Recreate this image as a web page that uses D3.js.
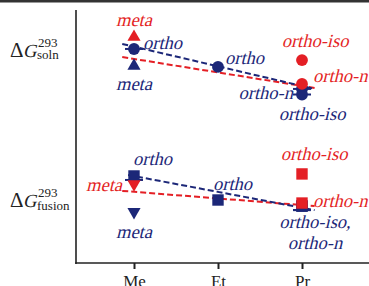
<!DOCTYPE html>
<meta charset="utf-8">
<script src="https://cdn.jsdelivr.net/npm/d3@7"></script>
<style>
  body { margin: 0; background: #fff; }
</style>
<div id="chart"></div>
<script>
  // categories on the x axis
  var categories = ["Me", "Et", "Pr"];

  // free energies, arbitrary relative units (higher = up)
  var blueSoln = [
    { cat: "Me", isomer: "ortho", value: 84.6 },
    { cat: "Me", isomer: "meta", value: 77.9 },
    { cat: "Et", isomer: "ortho", value: 77.5 },
    { cat: "Pr", isomer: "ortho-n", value: 68.8 },
    { cat: "Pr", isomer: "ortho-iso", value: 66.6 }
  ];
  var redSoln = [
    { cat: "Me", isomer: "meta", value: 89.3 },
    { cat: "Pr", isomer: "ortho-iso", value: 80.2 },
    { cat: "Pr", isomer: "ortho-n", value: 70.8 }
  ];
  var blueFusion = [
    { cat: "Me", isomer: "ortho", value: 34.4 },
    { cat: "Me", isomer: "meta", value: 20.2 },
    { cat: "Et", isomer: "ortho", value: 24.9 },
    { cat: "Pr", isomer: "ortho-iso", value: 22.5 },
    { cat: "Pr", isomer: "ortho-n", value: 22.5 }
  ];
  var redFusion = [
    { cat: "Me", isomer: "meta", value: 31.2 },
    { cat: "Pr", isomer: "ortho-iso", value: 35.2 },
    { cat: "Pr", isomer: "ortho-n", value: 23.7 }
  ];

  // dashed trend lines: [start index, start value, end index, end value]
  var blueSolnTrend = [-0.14, 86.6, 2.15, 68.8];
  var redSolnTrend = [-0.14, 81.4, 2.15, 69.2];
  var blueFusionTrend = [-0.07, 34.8, 2.15, 20.9];
  var redFusionTrend = [-0.14, 28.5, 2.15, 22.5];

  var width = 369, height = 286;
  var blue = "#1c2778", red = "#e41f25";
  var serif = "'Liberation Serif', 'Times New Roman', serif";

  var svg = d3.select("#chart").append("svg")
    .attr("width", width)
    .attr("height", height);

  var x = d3.scalePoint().domain(categories).range([134, 302]);
  var xi = d3.scaleLinear().domain([0, 2]).range([134, 302]);
  var y = d3.scaleLinear().domain([0, 100]).range([263, 10]);

  // slanted serif text (no italic face installed, so shear the upright one)
  function slanted(parent, tx, ty, size) {
    return parent.append("text")
      .attr("transform", "translate(" + tx + "," + ty + ") skewX(-14)")
      .style("font-family", serif)
      .style("font-size", size + "px");
  }

  // frame on top
  svg.append("rect").attr("x", 0).attr("y", 0).attr("width", width).attr("height", 2.5)
    .attr("fill", "#333");

  // axes
  var xAxis = svg.append("g")
    .attr("transform", "translate(0,263)")
    .call(d3.axisBottom(x).tickSize(6).tickSizeOuter(0));
  xAxis.attr("font-family", null);
  xAxis.select(".domain").remove();
  xAxis.selectAll(".tick line").attr("stroke", "#222").attr("stroke-width", 2);
  xAxis.selectAll(".tick text")
    .attr("y", 12)
    .style("font-family", serif)
    .style("font-size", "17px")
    .attr("fill", "#222");

  svg.append("line").attr("x1", 76).attr("x2", 76).attr("y1", 10).attr("y2", 264)
    .attr("stroke", "#222").attr("stroke-width", 1.6);
  svg.append("line").attr("x1", 75.2).attr("x2", width).attr("y1", 263).attr("y2", 263)
    .attr("stroke", "#222").attr("stroke-width", 1.6);

  // y labels
  function dgLabel(yb, sub, subDy) {
    svg.append("text").attr("x", 10).attr("y", yb)
      .style("font-family", serif).style("font-size", "21px").attr("fill", "#222")
      .text("Δ");
    slanted(svg, 23, yb, 18.5).attr("fill", "#222").text("G");
    svg.append("text").attr("x", 38).attr("y", yb - 10)
      .style("font-family", serif).style("font-size", "13px").attr("fill", "#222").text("293");
    svg.append("text").attr("x", 37).attr("y", yb + subDy)
      .style("font-family", serif).style("font-size", "13px").attr("fill", "#222").text(sub);
  }
  dgLabel(57, "soln", 2);
  dgLabel(207, "fusion", 3);

  // trend lines
  function trend(t, color) {
    svg.append("line")
      .attr("x1", xi(t[0])).attr("y1", y(t[1]))
      .attr("x2", xi(t[2])).attr("y2", y(t[3]))
      .attr("stroke", color)
      .attr("stroke-width", 2)
      .attr("stroke-dasharray", "6,3");
  }
  trend(redSolnTrend, red);
  trend(blueSolnTrend, blue);
  trend(redFusionTrend, red);
  trend(blueFusionTrend, blue);

  // markers
  function shapeFor(d, phase) {
    if (d.isomer === "meta") return d3.symbolTriangle;
    return phase === "soln" ? d3.symbolCircle : d3.symbolSquare;
  }
  function markers(data, color, phase, wings) {
    var g = svg.append("g");
    if (wings) {
      g.selectAll("line.wing")
        .data(data.filter(function (d) { return d.isomer !== "meta" && d.cat !== "Et"; }))
        .enter().append("line")
        .attr("x1", function (d) { return x(d.cat) - 9; })
        .attr("x2", function (d) { return x(d.cat) + 9; })
        .attr("y1", function (d) { return y(d.value) + (phase === "soln" ? 0 : 4); })
        .attr("y2", function (d) { return y(d.value) + (phase === "soln" ? 0 : 4); })
        .attr("stroke", color).attr("stroke-width", 2);
    }
    g.selectAll("path")
      .data(data)
      .enter().append("path")
      .attr("d", function (d) {
        var s = shapeFor(d, phase);
        var size = s === d3.symbolTriangle ? 75 : (s === d3.symbolCircle ? 110 : 130);
        return d3.symbol().type(s).size(size)();
      })
      .attr("transform", function (d) {
        var rot = (d.isomer === "meta" && phase === "fusion") ? " rotate(180)" : "";
        return "translate(" + x(d.cat) + "," + y(d.value) + ")" + rot;
      })
      .attr("fill", color);
  }
  markers(blueSoln, blue, "soln", true);
  markers(redSoln, red, "soln", false);
  markers(blueFusion, blue, "fusion", true);
  markers(redFusion, red, "fusion", false);

  // point labels: [text, color, x, baseline, anchor]
  var labels = [
    ["meta", red, x("Me"), 26, "middle"],
    ["ortho", blue, x("Me") + 9, 49, "start"],
    ["meta", blue, x("Me"), 90, "middle"],
    ["ortho", blue, x("Et") + 7, 64, "start"],
    ["ortho-iso", red, x("Pr") + 13, 47, "middle"],
    ["ortho-n", red, x("Pr") + 11, 82, "start"],
    ["ortho-n", blue, x("Pr") - 9, 99, "end"],
    ["ortho-iso", blue, x("Pr") + 10, 120, "middle"],
    ["ortho", blue, x("Me") - 1, 165, "start"],
    ["meta", red, x("Me") - 12, 191, "end"],
    ["meta", blue, x("Me"), 238, "middle"],
    ["ortho", blue, x("Et") - 5, 190, "start"],
    ["ortho-iso", red, x("Pr") + 12, 160, "middle"],
    ["ortho-n", red, x("Pr") + 11, 207, "start"],
    ["ortho-iso,", blue, x("Pr") + 13, 228, "middle"],
    ["ortho-n", blue, x("Pr") + 13, 249, "middle"]
  ];
  var lg = svg.append("g");
  labels.forEach(function (d) {
    slanted(lg, d[2], d[3], 18.5)
      .attr("text-anchor", d[4])
      .attr("fill", d[1])
      .text(d[0]);
  });
</script>
